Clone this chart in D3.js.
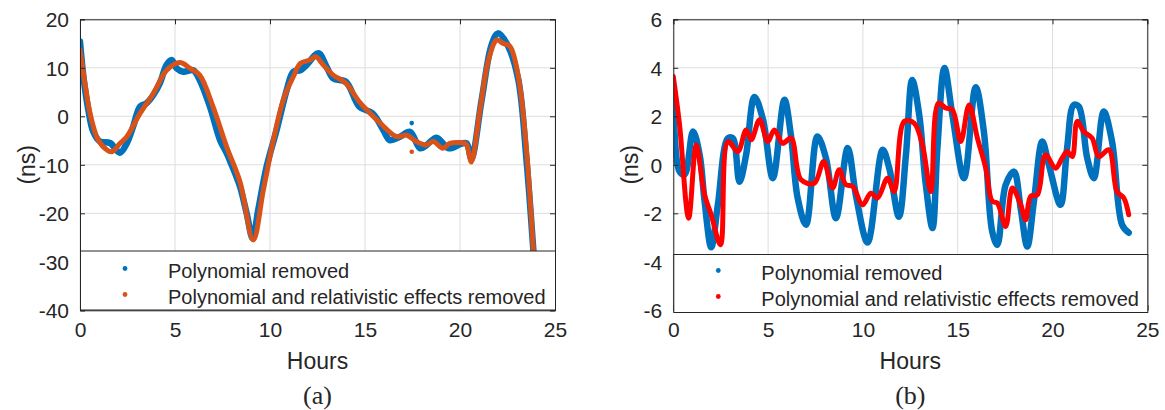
<!DOCTYPE html>
<html>
<head>
<meta charset="utf-8">
<script src="https://cdn.jsdelivr.net/npm/d3@7"></script>
<style>
  html, body { margin: 0; padding: 0; background: #fff; }
  svg { display: block; }
  text { font-family: "Liberation Sans", Arial, sans-serif; fill: #262626; }
</style>
</head>
<body>
<svg id="chart" width="1165" height="410"></svg>
<script>
// ---------- DATA ----------
const xTicks = [0, 5, 10, 15, 20, 25];
const yTicksA = [-40, -30, -20, -10, 0, 10, 20];
const yTicksB = [-6, -4, -2, 0, 2, 4, 6];
const legendLabels = ["Polynomial removed", "Polynomial and relativistic effects removed"];
const panelCaptions = ["(a)", "(b)"];

// Panel (a): polynomial removed
const polyHoursA = [0, 0.18, 0.44, 0.7, 1.05, 1.58, 2.1, 2.46, 2.8, 3.16, 3.5, 3.86, 4.2, 4.56, 4.82, 5.09, 5.44, 5.96, 6.3, 6.84, 7.37, 7.72, 7.98, 8.42, 8.77, 9.09, 9.38, 9.82, 10.35, 10.88, 11.23, 11.6, 11.93, 12.55, 12.98, 13.33, 14.0, 14.7, 15.4, 15.96, 16.3, 16.84, 17.37, 17.9, 18.25, 18.77, 19.4, 20.1, 20.35, 20.6, 21.14, 21.66, 22.0, 22.54, 23.07, 23.5, 23.86, 24.0];
const polyValsA = [15.4, 8.2, 1.3, -3.2, -5.2, -5.5, -7.5, -5.6, -2.1, 2.0, 2.7, 4.4, 6.8, 10.6, 11.6, 9.9, 9.2, 9.5, 7.5, 2.0, -4.9, -7.6, -10, -14.5, -20, -25.2, -19.3, -10.4, -2.8, 5.4, 9.2, 9.5, 10.6, 13, 10.2, 7.8, 7.1, 2.0, 0.6, -2.8, -4.9, -4.2, -3.2, -6.6, -5.9, -4.4, -6.6, -5.6, -5.6, -8.7, 3.4, 14.7, 17.1, 14.4, 7.5, -9, -27.6, -36];
// Panel (a): polynomial and relativistic effects removed
const relHoursA = [0, 0.26, 0.53, 0.88, 1.23, 1.67, 2.1, 2.46, 3.16, 3.86, 4.56, 5.26, 5.79, 6.3, 7.0, 7.72, 8.42, 9.12, 9.65, 10.18, 10.7, 11.23, 11.6, 12.1, 12.4, 12.8, 13.33, 14.0, 14.7, 15.1, 15.8, 16.67, 17.2, 17.7, 18.2, 18.6, 19.1, 19.47, 20.2, 20.35, 20.6, 21.05, 21.5, 21.93, 22.28, 22.63, 23.07, 23.5, 23.86, 24.0];
const relValsA = [13.7, 6.8, 0.6, -4.2, -6.3, -7.3, -5.6, -4.2, 0.6, 4.7, 9.5, 11.1, 9.9, 8.5, 2.0, -6.3, -13.5, -25.5, -15.2, -4.9, 3.4, 8.2, 10.9, 11.6, 12.3, 10.6, 8.5, 6.8, 3.0, 1.3, -1.4, -4.2, -3.9, -5.2, -5.9, -5.2, -6.6, -5.6, -5.5, -5.9, -9.4, 1.3, 11.6, 15.7, 15.0, 14.4, 8.2, -6.9, -27.6, -36];
// isolated outlier samples in (a)
const polyOutlierHoursA = [17.46];
const polyOutlierValsA = [-1.4];
const relOutlierHoursA = [17.46];
const relOutlierValsA = [-7.3];

// Panel (b): polynomial removed
const polyHoursB = [0, 0.33, 0.6, 1.04, 1.39, 1.65, 2.0, 2.35, 2.88, 3.14, 3.49, 3.84, 4.28, 4.72, 5.25, 5.86, 6.2, 6.56, 7.0, 7.6, 8.05, 8.58, 9.2, 9.64, 10.25, 11.04, 11.39, 11.9, 12.27, 12.6, 12.97, 13.3, 13.67, 13.93, 14.3, 14.72, 15.33, 15.95, 16.38, 16.82, 17.09, 17.53, 17.97, 18.32, 18.67, 19.02, 19.46, 19.81, 20.42, 20.77, 21.12, 21.39, 21.83, 22.18, 22.7, 23.14, 23.67, 24.02];
const polyValsB = [2.8, -0.28, -0.4, 1.37, 0.41, -1.5, -3.4, -1.65, 1.1, 1.1, -0.7, 0.41, 2.8, 1.9, -0.55, 2.68, 1.24, -1.37, -2.47, 1.17, 0.28, -2.2, 0.69, -1.3, -3.2, 0.62, -0.14, -2.14, 0.41, 3.5, 2.06, -0.69, -2.61, 0.69, 3.99, 2.06, -0.55, 3.2, 1.37, -2.75, -3.3, -0.83, -0.28, -1.79, -3.37, -1.5, 0.96, 0, -1.65, 0.69, 2.47, 2.4, 0.28, -0.55, 2.2, 0.96, -2.47, -2.8];
// Panel (b): polynomial and relativistic effects removed
const relHoursB = [0, 0.33, 0.81, 1.21, 1.65, 2.0, 2.49, 2.88, 3.4, 3.84, 4.11, 4.55, 4.98, 5.33, 5.77, 6.21, 6.74, 7.44, 7.93, 8.4, 8.75, 9.1, 9.46, 9.98, 10.42, 10.77, 11.3, 11.65, 12.18, 12.7, 13.14, 13.58, 13.98, 14.37, 14.72, 15.16, 15.6, 16.04, 16.48, 16.82, 17.09, 17.53, 17.88, 18.32, 18.58, 18.85, 19.2, 19.63, 20.16, 20.51, 20.77, 21.04, 21.3, 21.65, 22.09, 22.44, 22.97, 23.4, 23.76, 24.02];
const relValsB = [3.64, 1.65, -2.2, 0.82, -1.24, -2.06, -3.3, 0.96, 0.55, 1.44, 1.03, 1.86, 0.96, 1.44, 0.89, 1.1, -0.62, -0.76, 0.14, -0.96, -0.2, -0.82, -0.89, -1.65, -1.17, -1.37, -0.55, -1.1, 1.79, 1.72, 0.82, -1.1, 2.54, 2.34, 2.27, 0.96, 2.47, 1.1, -0.14, -1.5, -1.58, -2.54, -0.96, -1.65, -2.27, -1.3, -1.24, 0.41, -0.14, 0.28, 0.55, 0.34, 1.79, 1.37, 1.1, 0.34, 0.62, -1.1, -1.37, -2.06];

// ---------- LAYOUT / STYLE ----------
const zip = (a, b) => a.map((h, i) => [h, b[i]]);
const panels = [
  { left: 80, right: 555, top: 19.3, bottom: 310.3, yDomain: [-40, 20], yTicks: yTicksA,
    series: [
      { data: zip(polyHoursA, polyValsA), color: "#0072BD", width: 6.5, outliers: zip(polyOutlierHoursA, polyOutlierValsA) },
      { data: zip(relHoursA, relValsA), color: "#D95319", width: 5, outliers: zip(relOutlierHoursA, relOutlierValsA) }
    ],
    legend: { top: 251, bottom: 310, rowY: [270.5, 296.5] },
    ylabelX: 27, caption: panelCaptions[0] },
  { left: 673.3, right: 1147.3, top: 19.3, bottom: 310.3, yDomain: [-6, 6], yTicks: yTicksB,
    series: [
      { data: zip(polyHoursB, polyValsB), color: "#0072BD", width: 6.5, outliers: [] },
      { data: zip(relHoursB, relValsB), color: "#FF0000", width: 5, outliers: [] }
    ],
    legend: { top: 254.5, bottom: 312.5, rowY: [272.5, 298.5] },
    ylabelX: 630, caption: panelCaptions[1] }
];

const svg = d3.select("#chart");
const axisColor = "#262626";
const gridColor = "#dedede";

panels.forEach((p, pi) => {
  const x = d3.scaleLinear().domain([0, 25]).range([p.left, p.right]);
  const y = d3.scaleLinear().domain(p.yDomain).range([p.bottom, p.top]);
  const g = svg.append("g");

  // grid
  g.append("g").selectAll("line.gx").data(xTicks).join("line")
    .attr("x1", d => x(d)).attr("x2", d => x(d))
    .attr("y1", p.top).attr("y2", p.bottom)
    .attr("stroke", gridColor).attr("stroke-width", 1);
  g.append("g").selectAll("line.gy").data(p.yTicks).join("line")
    .attr("x1", p.left).attr("x2", p.right)
    .attr("y1", d => y(d)).attr("y2", d => y(d))
    .attr("stroke", gridColor).attr("stroke-width", 1);

  // clip
  const clipId = "clip" + pi;
  svg.append("clipPath").attr("id", clipId).append("rect")
    .attr("x", p.left).attr("y", p.top)
    .attr("width", p.right - p.left).attr("height", p.bottom - p.top);

  const plot = g.append("g").attr("clip-path", `url(#${clipId})`);
  const line = d3.line().x(d => x(d[0])).y(d => y(d[1])).curve(d3.curveCatmullRom.alpha(0.5));
  p.series.forEach(s => {
    plot.append("path").datum(s.data)
      .attr("d", line).attr("fill", "none")
      .attr("stroke", s.color).attr("stroke-width", s.width)
      .attr("stroke-linejoin", "round").attr("stroke-linecap", "round");
  });
  p.series.forEach(s => {
    plot.selectAll(null).data(s.outliers).join("circle")
      .attr("cx", d => x(d[0])).attr("cy", d => y(d[1]))
      .attr("r", 2.3).attr("fill", s.color);
  });

  // axes using d3 axis generators (ticks inside, box)
  const xAxisB = d3.axisBottom(x).tickValues(xTicks).tickSize(-5).tickPadding(10).tickFormat(d3.format("d"));
  const xAxisT = d3.axisTop(x).tickValues(xTicks).tickSize(-5).tickFormat("");
  const yAxisL = d3.axisLeft(y).tickValues(p.yTicks).tickSize(-5).tickPadding(11).tickFormat(d3.format("d"));
  const yAxisR = d3.axisRight(y).tickValues(p.yTicks).tickSize(-5).tickFormat("");

  const styleAxis = sel => {
    sel.selectAll("path.domain").attr("stroke", axisColor).attr("stroke-width", 1);
    sel.selectAll(".tick line").attr("stroke", axisColor).attr("stroke-width", 1);
    sel.selectAll(".tick text").attr("fill", axisColor)
      .style("font-family", '"Liberation Sans", Arial, sans-serif').style("font-size", "21px");
  };
  g.append("g").attr("transform", `translate(0,${p.bottom})`).call(xAxisB).call(styleAxis)
    .selectAll(".tick text").attr("dy", "0.78em");
  g.append("g").attr("transform", `translate(0,${p.top})`).call(xAxisT).call(styleAxis);
  g.append("g").attr("transform", `translate(${p.left},0)`).call(yAxisL).call(styleAxis)
    .selectAll(".tick text").text(d => d < 0 ? "-" + Math.abs(d) : d).attr("dy", "0.35em");
  g.append("g").attr("transform", `translate(${p.right},0)`).call(yAxisR).call(styleAxis);

  // legend
  const L = p.legend;
  const lg = g.append("g");
  lg.append("rect").attr("x", p.left + 0.5).attr("y", L.top)
    .attr("width", p.right - p.left).attr("height", L.bottom - L.top)
    .attr("fill", "#fff").attr("stroke", axisColor).attr("stroke-width", 1);
  p.series.forEach((s, i) => {
    lg.append("circle").attr("cx", p.left + 45).attr("cy", L.rowY[i] - 2).attr("r", 2.4).attr("fill", s.color);
    lg.append("text").attr("x", p.left + 88).attr("y", L.rowY[i]).attr("dy", "0.35em")
      .style("font-size", "20px").text(legendLabels[i]);
  });

  // axis labels
  const cx = (p.left + p.right) / 2;
  g.append("text").attr("x", cx).attr("y", 369).attr("text-anchor", "middle")
    .style("font-size", "23px").text("Hours");
  g.append("text").attr("transform", `translate(${p.ylabelX},${(p.top + p.bottom) / 2}) rotate(-90)`)
    .attr("text-anchor", "middle").attr("dy", "0.35em")
    .style("font-size", "23px").text("(ns)");
  g.append("text").attr("x", cx).attr("y", 404).attr("text-anchor", "middle")
    .style("font-family", '"Liberation Serif", "Times New Roman", serif').style("font-size", "26px")
    .attr("fill", "#000").text(p.caption);
});
</script>
</body>
</html>
